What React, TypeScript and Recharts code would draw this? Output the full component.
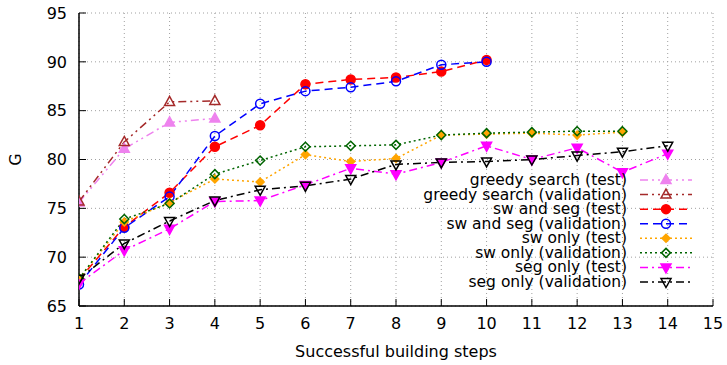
import React from "react";
import { LineChart, Line, XAxis, YAxis, CartesianGrid, Legend } from "recharts";

const steps = [1, 2, 3, 4, 5, 6, 7, 8, 9, 10, 11, 12, 13, 14, 15];
const yTicks = [65, 70, 75, 80, 85, 90, 95];

const greedyTest = [75.6, 81.1, 83.8, 84.2];
const greedyVal = [75.7, 81.8, 85.9, 86.0];
const swSegTest = [67.7, 73.1, 76.6, 81.3, 83.5, 87.7, 88.2, 88.4, 89.0, 90.2];
const swSegVal = [67.2, 73.0, 76.2, 82.4, 85.7, 87.0, 87.4, 88.0, 89.7, 90.0];
const swTest = [67.8, 73.6, 75.6, 78.0, 77.7, 80.5, 79.8, 80.1, 82.5, 82.6, 82.7, 82.5, 82.8];
const swVal = [67.8, 73.9, 75.5, 78.5, 79.9, 81.3, 81.4, 81.5, 82.5, 82.7, 82.8, 82.9, 82.9];
const segTest = [67.3, 70.7, 72.9, 75.7, 75.8, 77.4, 79.1, 78.5, 79.7, 81.4, 80.0, 81.2, 78.7, 80.6];
const segVal = [67.8, 71.4, 73.7, 75.8, 76.9, 77.3, 78.0, 79.5, 79.7, 79.8, 80.0, 80.4, 80.8, 81.4];

type MarkerKind = "triUp" | "circle" | "diamond" | "triDown";
type S = { key: string; name: string; color: string; dash: string; marker: MarkerKind; filled: boolean; values: number[] };

const series: S[] = [
  { key: "greedyTest", name: "greedy search (test)", color: "#ee82ee", dash: "8 4 2 4 2 4", marker: "triUp", filled: true, values: greedyTest },
  { key: "greedyVal", name: "greedy search (validation)", color: "#a52a2a", dash: "8 4 2 4 2 4", marker: "triUp", filled: false, values: greedyVal },
  { key: "swSegTest", name: "sw and seg (test)", color: "#ff0000", dash: "8 5", marker: "circle", filled: true, values: swSegTest },
  { key: "swSegVal", name: "sw and seg (validation)", color: "#0000ff", dash: "8 5", marker: "circle", filled: false, values: swSegVal },
  { key: "swTest", name: "sw only (test)", color: "#ffa500", dash: "2 3", marker: "diamond", filled: true, values: swTest },
  { key: "swVal", name: "sw only (validation)", color: "#006400", dash: "2 3", marker: "diamond", filled: false, values: swVal },
  { key: "segTest", name: "seg only (test)", color: "#ff00ff", dash: "8 4 2 4", marker: "triDown", filled: true, values: segTest },
  { key: "segVal", name: "seg only (validation)", color: "#000000", dash: "8 4 2 4", marker: "triDown", filled: false, values: segVal },
];

const data = steps.slice(0, 14).map((x, i) => {
  const row: Record<string, number | null> = { x };
  series.forEach((s) => {
    row[s.key] = i < s.values.length ? s.values[i] : null;
  });
  return row;
});

const FONT = "DejaVu Sans";

function Marker({ kind, filled, color, cx, cy }: { kind: MarkerKind; filled: boolean; color: string; cx: number; cy: number }) {
  const fill = filled ? color : "none";
  const sw = 1.5;
  if (kind === "circle") {
    return <circle cx={cx} cy={cy} r={4.5} fill={fill} stroke={color} strokeWidth={sw} />;
  }
  if (kind === "diamond") {
    const r = filled ? 4 : 4.5;
    return <polygon points={`${cx},${cy - r} ${cx + r},${cy} ${cx},${cy + r} ${cx - r},${cy}`} fill={fill} stroke={color} strokeWidth={sw} />;
  }
  if (kind === "triUp") {
    return <polygon points={`${cx},${cy - 5.5} ${cx + 5},${cy + 3.5} ${cx - 5},${cy + 3.5}`} fill={fill} stroke={color} strokeWidth={sw} />;
  }
  return <polygon points={`${cx},${cy + 5.5} ${cx + 5},${cy - 3.5} ${cx - 5},${cy - 3.5}`} fill={fill} stroke={color} strokeWidth={sw} />;
}

function LegendBox() {
  const right = 627;
  const x1 = 640;
  const x2 = 692;
  const y0 = 180;
  const dy = 14.57;
  return (
    <svg width={727} height={365} style={{ position: "absolute", left: 0, top: 0 }}>
      {series.map((s, i) => {
        const y = y0 + i * dy;
        return (
          <g key={s.key}>
            <text x={right} y={y} textAnchor="end" dominantBaseline="central" fontFamily={FONT} fontSize={15.5} fill="#000">
              {s.name}
            </text>
            <line x1={x1} x2={x2} y1={y} y2={y} stroke={s.color} strokeWidth={1.5} strokeDasharray={s.dash} />
            <Marker kind={s.marker} filled={s.filled} color={s.color} cx={(x1 + x2) / 2} cy={y} />
          </g>
        );
      })}
    </svg>
  );
}

const tickStyle = { fill: "#000", fontSize: 16, fontFamily: FONT };

export default function App() {
  return (
    <div style={{ position: "absolute", left: 0, top: 0, width: 727, height: 365, background: "#fff" }}>
      <LineChart width={727} height={365} data={data} margin={{ top: 13, right: 14, bottom: 0, left: 0 }}>
        <CartesianGrid stroke="#a0a0a0" strokeDasharray="1 3" strokeWidth={1} />
        <XAxis
          dataKey="x"
          type="number"
          domain={[1, 15]}
          ticks={steps}
          height={59}
          tickSize={-7}
          tickMargin={19}
          tick={tickStyle}
          axisLine={{ stroke: "#000", strokeWidth: 1.5 }}
          tickLine={{ stroke: "#000", strokeWidth: 1 }}
          allowDataOverflow
          label={{ value: "Successful building steps", position: "insideBottom", offset: 8, fill: "#000", fontSize: 16, fontFamily: FONT }}
        />
        <XAxis
          xAxisId="top"
          orientation="top"
          dataKey="x"
          type="number"
          domain={[1, 15]}
          ticks={steps}
          height={0}
          tickSize={-7}
          tick={false}
          axisLine={{ stroke: "#000", strokeWidth: 1.5 }}
          tickLine={{ stroke: "#000", strokeWidth: 1 }}
          allowDataOverflow
        />
        <YAxis
          type="number"
          domain={[65, 95]}
          ticks={yTicks}
          width={79}
          tickSize={-7}
          tickMargin={19}
          tick={tickStyle}
          axisLine={{ stroke: "#000", strokeWidth: 1.5 }}
          tickLine={{ stroke: "#000", strokeWidth: 1 }}
          allowDataOverflow
          label={{
            content: (p: any) => {
              const vb = p.viewBox || {};
              const cx = 15;
              const cy = (vb.y ?? 13) + (vb.height ?? 293) / 2;
              return (
                <text x={cx} y={cy} transform={`rotate(-90 ${cx} ${cy})`} textAnchor="middle" dominantBaseline="central" fontFamily={FONT} fontSize={16} fill="#000">
                  G
                </text>
              );
            },
          }}
        />
        <YAxis
          yAxisId="right"
          orientation="right"
          type="number"
          domain={[65, 95]}
          ticks={yTicks}
          width={0}
          tickSize={-7}
          tick={false}
          axisLine={{ stroke: "#000", strokeWidth: 1.5 }}
          tickLine={{ stroke: "#000", strokeWidth: 1 }}
          allowDataOverflow
        />
        {series.map((s) => (
          <Line
            key={s.key}
            dataKey={s.key}
            name={s.name}
            stroke={s.color}
            strokeWidth={1.5}
            strokeDasharray={s.dash}
            isAnimationActive={false}
            activeDot={false}
            dot={(p: any) => {
              const v = p.payload ? p.payload[s.key] : null;
              if (v == null || p.cx == null || p.cy == null) return <g key={p.key} />;
              return (
                <g key={p.key}>
                  <Marker kind={s.marker} filled={s.filled} color={s.color} cx={p.cx} cy={p.cy} />
                </g>
              );
            }}
          />
        ))}
        <Legend
          layout="vertical"
          align="center"
          verticalAlign="middle"
          wrapperStyle={{ position: "absolute", left: 0, top: 0, width: 727, height: 365, pointerEvents: "none" }}
          content={() => <LegendBox />}
        />
      </LineChart>
    </div>
  );
}
